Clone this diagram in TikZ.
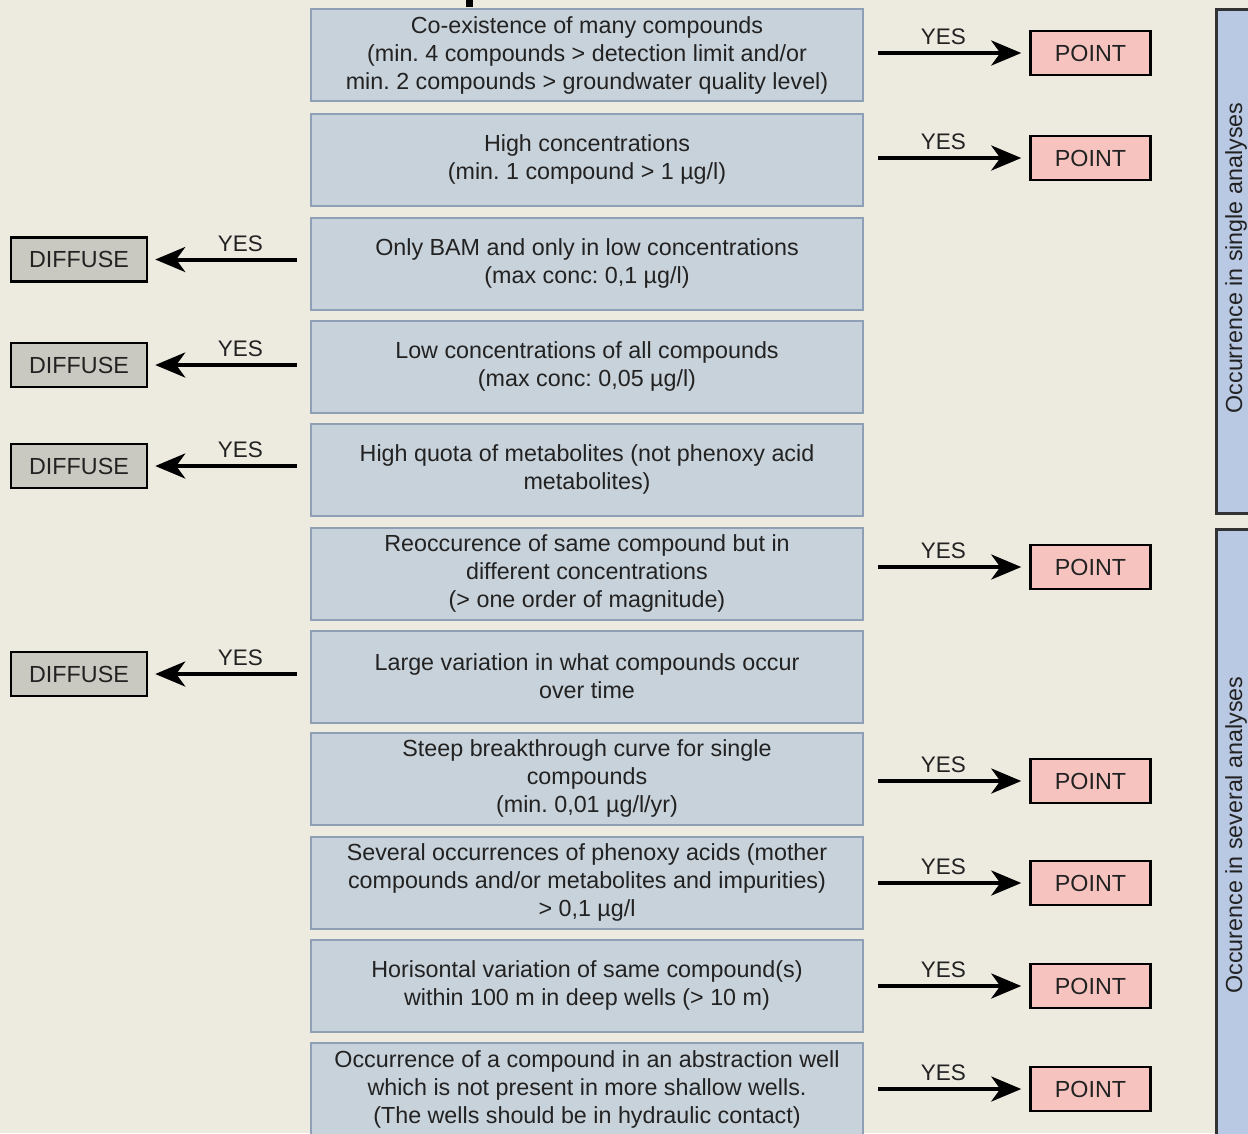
\documentclass[tikz,border=0pt]{standalone}
\usepackage{fontspec}
\setmainfont{Liberation Sans}
\frenchspacing
\usetikzlibrary{arrows.meta}
\definecolor{bgcol}{HTML}{EDEAE0}
\definecolor{critfill}{HTML}{C8D2DA}
\definecolor{critline}{HTML}{8E9FB6}
\definecolor{pointfill}{HTML}{F6C3BF}
\definecolor{diffusefill}{HTML}{C9C9C1}
\definecolor{barfill}{HTML}{B9C9E3}
\definecolor{txtcol}{HTML}{222222}
\tikzset{
  crit/.style={draw=critline,line width=2pt,fill=critfill,minimum width=552pt,minimum height=92pt,
    align=center,text=txtcol,font=\fontsize{23.3}{28}\selectfont},
  pointbox/.style={draw=black,line width=2.5pt,fill=pointfill,minimum width=120pt,minimum height=44pt,
    text=txtcol,font=\fontsize{23.3}{28}\selectfont},
  diffusebox/.style={pointbox,fill=diffusefill,minimum width=136pt},
  yesarrow/.style={line width=4pt,-{Stealth[length=30pt,width=25pt,inset=9pt]}},
  yeslabel/.style={text=txtcol,inner sep=6pt,font=\fontsize{22.5}{27}\selectfont},
  bartext/.style={rotate=90,text=txtcol,font=\fontsize{23.3}{28}\selectfont},
}
\begin{document}
\begin{tikzpicture}[x=1pt,y=-1pt]
  \useasboundingbox (0,0) rectangle (1248,1133);
  \clip (0,0) rectangle (1248,1133);
  \fill[bgcol] (0,0) rectangle (1248,1133);
  \fill[black] (466,0) rectangle (473,7);
  % criteria
  \node[crit] (c1) at (587,55) {Co-existence of many compounds\\(min. 4 compounds > detection limit and/or\\min. 2 compounds > groundwater quality level)};
  \node[crit] (c2) at (587,159.5) {High concentrations\\(min. 1 compound > 1 µg/l)};
  \node[crit] (c3) at (587,263.5) {Only BAM and only in low concentrations\\(max conc: 0,1 µg/l)};
  \node[crit] (c4) at (587,366.5) {Low concentrations of all compounds\\(max conc: 0,05 µg/l)};
  \node[crit] (c5) at (587,469.5) {High quota of metabolites (not phenoxy acid\\metabolites)};
  \node[crit] (c6) at (587,573.5) {Reoccurence of same compound but in\\different concentrations\\(> one order of magnitude)};
  \node[crit] (c7) at (587,676.5) {Large variation in what compounds occur\\over time};
  \node[crit] (c8) at (587,778.5) {Steep breakthrough curve for single\\compounds\\(min. 0,01 µg/l/yr)};
  \node[crit] (c9) at (587,882.5) {Several occurrences of phenoxy acids (mother\\compounds and/or metabolites and impurities)\\> 0,1 µg/l};
  \node[crit] (c10) at (587,985.5) {Horisontal variation of same compound(s)\\within 100 m in deep wells (> 10 m)};
  \node[crit] (c11) at (587,1089) {Occurrence of a compound in an abstraction well\\which is not present in more shallow wells.\\(The wells should be in hydraulic contact)};
  % outcomes
  \node[pointbox] (p1) at (1090.5,53) {POINT};
  \node[pointbox] (p2) at (1090.5,158) {POINT};
  \node[diffusebox] (d3) at (79,259.5) {DIFFUSE};
  \node[diffusebox] (d4) at (79,365) {DIFFUSE};
  \node[diffusebox] (d5) at (79,466) {DIFFUSE};
  \node[pointbox] (p6) at (1090.5,567) {POINT};
  \node[diffusebox] (d7) at (79,674) {DIFFUSE};
  \node[pointbox] (p8) at (1090.5,781) {POINT};
  \node[pointbox] (p9) at (1090.5,883) {POINT};
  \node[pointbox] (p10) at (1090.5,986) {POINT};
  \node[pointbox] (p11) at (1090.5,1089) {POINT};
  \draw[yesarrow,shorten <=14pt,shorten >=8pt] (p1.west -| c1.east) -- node[yeslabel,above,pos=0.48]{YES} (p1.west);
  \draw[yesarrow,shorten <=14pt,shorten >=8pt] (p2.west -| c2.east) -- node[yeslabel,above,pos=0.48]{YES} (p2.west);
  \draw[yesarrow,shorten <=13pt,shorten >=7pt] (d3.east -| c3.west) -- node[yeslabel,above,pos=0.43]{YES} (d3.east);
  \draw[yesarrow,shorten <=13pt,shorten >=7pt] (d4.east -| c4.west) -- node[yeslabel,above,pos=0.43]{YES} (d4.east);
  \draw[yesarrow,shorten <=13pt,shorten >=7pt] (d5.east -| c5.west) -- node[yeslabel,above,pos=0.43]{YES} (d5.east);
  \draw[yesarrow,shorten <=14pt,shorten >=8pt] (p6.west -| c6.east) -- node[yeslabel,above,pos=0.48]{YES} (p6.west);
  \draw[yesarrow,shorten <=13pt,shorten >=7pt] (d7.east -| c7.west) -- node[yeslabel,above,pos=0.43]{YES} (d7.east);
  \draw[yesarrow,shorten <=14pt,shorten >=8pt] (p8.west -| c8.east) -- node[yeslabel,above,pos=0.48]{YES} (p8.west);
  \draw[yesarrow,shorten <=14pt,shorten >=8pt] (p9.west -| c9.east) -- node[yeslabel,above,pos=0.48]{YES} (p9.west);
  \draw[yesarrow,shorten <=14pt,shorten >=8pt] (p10.west -| c10.east) -- node[yeslabel,above,pos=0.48]{YES} (p10.west);
  \draw[yesarrow,shorten <=14pt,shorten >=8pt] (p11.west -| c11.east) -- node[yeslabel,above,pos=0.48]{YES} (p11.west);
  % side bars
  \filldraw[fill=barfill,draw=black!80,line width=3pt] (1216,9) rectangle (1262,513);
  \filldraw[fill=barfill,draw=black!80,line width=3pt] (1216,529) rectangle (1262,1150);
  \node[bartext] (single) at (1236,258) {Occurrence in single analyses};
  \node[bartext] (several) at (1236,835) {Occurence in several analyses};
\end{tikzpicture}
\end{document}
